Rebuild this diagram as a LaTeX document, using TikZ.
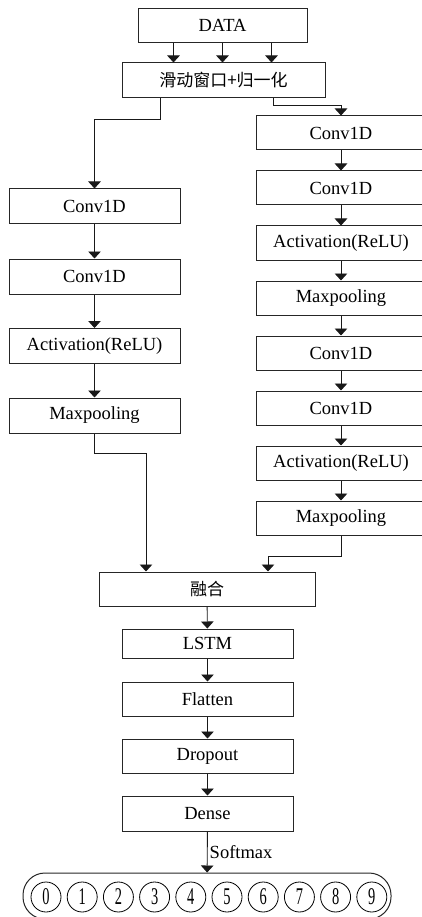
\documentclass[tikz,border=0pt]{standalone}
\usepackage{fontspec}
\setmainfont{Liberation Serif}
\newfontfamily\cjk{Noto Sans CJK SC}
\usetikzlibrary{arrows.meta}

\tikzset{
  layer/.style={draw=black!85, line width=1pt, minimum height=34pt, inner sep=0pt,
    font=\fontsize{18.5}{20}\selectfont},
  flow/.style={draw=black!90, line width=0.9pt, -{Triangle[width=12.5pt,length=7pt]}},
  digit/.style={draw, circle, minimum size=30pt, inner sep=0pt, line width=0.8pt,
    font=\fontsize{24}{24}\selectfont}
}

\begin{document}
\begin{tikzpicture}[x=1pt, y=-1pt]
\path[clip] (0,0) rectangle (422,917);

\node[layer, minimum width=169pt] (data) at (222.5,25.5) {DATA};
\node[layer, minimum width=203pt, minimum height=35pt,
  font=\cjk\fontsize{17}{20}\selectfont] (norm) at (223.5,80.5) {滑动窗口+归一化};

% left branch
\node[layer, minimum width=171pt, minimum height=35pt] (l1) at (94.5,206.5) {Conv1D};
\node[layer, minimum width=171pt, minimum height=35pt] (l2) at (94.5,276.5) {Conv1D};
\node[layer, minimum width=171pt, minimum height=35pt] (l3) at (94.5,346) {Activation(ReLU)};
\node[layer, minimum width=171pt, minimum height=35pt] (l4) at (94.5,415.5) {Maxpooling};

% right branch
\foreach \name/\txt [count=\i from 0] in {r1/Conv1D, r2/Conv1D, r3/Activation(ReLU),
    r4/Maxpooling, r5/Conv1D, r6/Conv1D, r7/Activation(ReLU), r8/Maxpooling}
  \node[layer, minimum width=170pt] (\name) at (341,133+55*\i) {\txt};

\node[layer, minimum width=216pt, font=\cjk\fontsize{17}{20}\selectfont] (merge) at (207,589) {融合};
\node[layer, minimum width=171pt, minimum height=29pt] (lstm) at (207.5,643.5) {LSTM};
\node[layer, minimum width=171pt] (flatten) at (207.5,699) {Flatten};
\node[layer, minimum width=171pt] (dropout) at (207.5,756) {Dropout};
\node[layer, minimum width=171pt, minimum height=35pt] (dense) at (207.5,813.5) {Dense};

\node[draw=black!85, line width=1pt, rounded corners=22pt, minimum width=368pt,
  minimum height=46pt] (out) at (207,896) {};
\foreach \d in {0,...,9}
  \node[digit] (c\d) at (46+36.2*\d,897) {\scalebox{0.6}[1]{\d}};

\foreach \dx in {-49,0,49}
  \draw[flow] ([xshift=\dx pt]data.south) -- ([xshift=\dx pt]data.south |- norm.north);

\draw[flow] ([xshift=-63.5pt]norm.south) -- ++(0,21) -| (l1.north);
\draw[flow] ([xshift=49.5pt]norm.south) -- ++(0,7) -| (r1.north);

\foreach \a/\b in {l1/l2, l2/l3, l3/l4, r1/r2, r2/r3, r3/r4, r4/r5, r5/r6, r6/r7, r7/r8,
    merge/lstm, lstm/flatten, flatten/dropout, dropout/dense}
  \draw[flow] (\a) -- (\b);

\draw[flow] (l4.south) -- ++(0,20) -| ([xshift=-61pt]merge.north);
\draw[flow] (r8.south) -- ++(0,21) -| ([xshift=61pt]merge.north);

\draw[flow] (dense) -- node[right, inner sep=2pt, font=\fontsize{18.5}{20}\selectfont] {Softmax} (out);
\end{tikzpicture}
\end{document}
